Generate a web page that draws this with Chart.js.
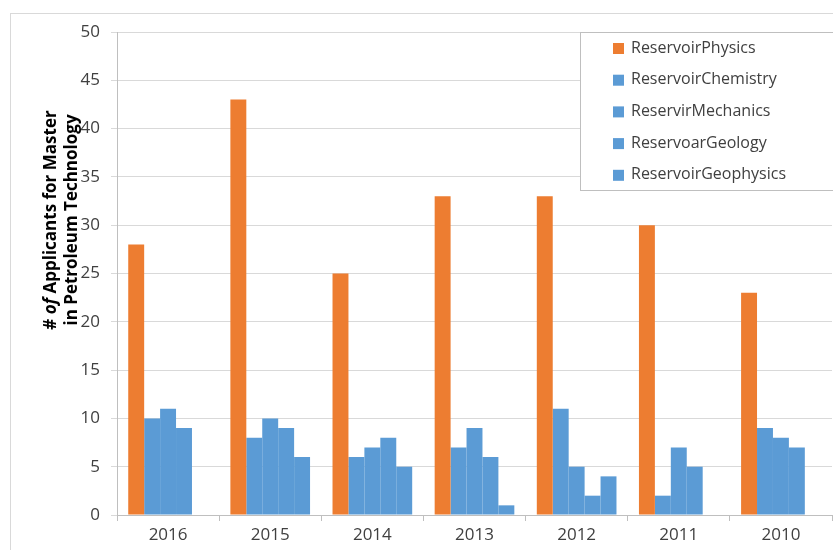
<!DOCTYPE html>
<html>
<head>
<meta charset="utf-8">
<script src="https://cdn.jsdelivr.net/npm/chart.js@4.4.1/dist/chart.umd.min.js"></script>
<style>
  html, body { margin: 0; padding: 0; background: #fff; }
  #wrap { width: 833px; height: 550px; }
</style>
</head>
<body>
<div id="wrap"><canvas id="myChart" width="833" height="550"></canvas></div>
<script>
// datos
const years = ['2016', '2015', '2014', '2013', '2012', '2011', '2010'];
const physics    = [28, 43, 25, 33, 33, 30, 23];
const chemistry  = [10, 8, 6, 7, 11, 2, 9];
const mechanics  = [11, 10, 7, 9, 5, 7, 8];
const geology    = [9, 9, 8, 6, 2, 5, 7];
const geophysics = [0, 6, 5, 1, 4, 0, 0];
const seriesNames = ['ReservoirPhysics', 'ReservoirChemistry', 'ReservirMechanics', 'ReservoarGeology', 'ReservoirGeophysics'];

const orange = '#ED7D31';
const blue = '#5B9BD5';
const font = "'Open Sans', 'Liberation Sans', sans-serif";

// marco exterior
const framePlugin = {
  id: 'frame',
  beforeDraw(chart) {
    const c = chart.ctx;
    c.save();
    c.strokeStyle = '#d9d9d9';
    c.lineWidth = 1;
    c.strokeRect(10.5, 13.5, 900, 700);
    c.restore();
  }
};

// titulo del eje y con "of" en cursiva
const titlePlugin = {
  id: 'ytitle',
  afterDraw(chart) {
    const c = chart.ctx;
    c.save();
    c.fillStyle = '#000';
    c.textBaseline = 'middle';
    c.translate(51, 220);
    c.rotate(-Math.PI / 2);
    const parts = [['# ', 'bold'], ['of', 'italic bold'], [' Applicants for Master', 'bold']];
    let total = 0;
    parts.forEach(p => { c.font = p[1] + ' 17px ' + font; total += c.measureText(p[0]).width; });
    let x = -total / 2;
    parts.forEach(p => {
      c.font = p[1] + ' 17px ' + font;
      c.textAlign = 'left';
      c.fillText(p[0], x, 0);
      x += c.measureText(p[0]).width;
    });
    c.font = 'bold 17px ' + font;
    c.textAlign = 'center';
    c.fillText('in Petroleum Technology', 0, 21);
    c.restore();
  }
};

// leyenda dentro del area del grafico
const legendPlugin = {
  id: 'boxLegend',
  afterDraw(chart) {
    const c = chart.ctx;
    c.save();
    c.fillStyle = '#fff';
    c.fillRect(580, 32, 260, 158);
    c.strokeStyle = '#bfbfbf';
    c.lineWidth = 1;
    c.strokeRect(580.5, 32.5, 260, 158);
    c.font = '16px ' + font;
    c.textBaseline = 'middle';
    c.textAlign = 'left';
    chart.data.datasets.forEach((ds, i) => {
      const y = 48 + i * 31.7;
      c.fillStyle = ds.backgroundColor;
      c.fillRect(613, y - 5, 11, 11);
      c.fillStyle = '#404040';
      c.fillText(ds.label, 631, y);
    });
    c.restore();
  }
};

const ctx = document.getElementById('myChart');
const lists = [physics, chemistry, mechanics, geology, geophysics];

new Chart(ctx, {
  type: 'bar',
  data: {
    labels: years,
    datasets: lists.map((vals, i) => ({
      label: seriesNames[i],
      data: vals,
      backgroundColor: i === 0 ? orange : blue,
      borderWidth: 0,
      categoryPercentage: 0.78,
      barPercentage: 1.0
    }))
  },
  options: {
    responsive: false,
    animation: false,
    layout: { padding: { top: 32, right: 1, left: 0, bottom: 0 } },
    plugins: {
      legend: { display: false },
      tooltip: { enabled: false }
    },
    scales: {
      x: {
        offset: true,
        grid: { display: true, drawOnChartArea: false, drawTicks: true, tickLength: 6, color: '#bfbfbf' },
        border: { color: '#bfbfbf' },
        ticks: { color: '#404040', font: { size: 17, family: font }, padding: 4 },
        afterFit(s) { s.height = 35; }
      },
      y: {
        min: 0,
        max: 50,
        ticks: { stepSize: 5, color: '#404040', font: { size: 17, family: font }, padding: 11 },
        grid: { color: '#d9d9d9', drawTicks: true, tickLength: 6 },
        border: { color: '#bfbfbf' },
        afterFit(s) { s.width = 117; }
      }
    }
  },
  plugins: [framePlugin, titlePlugin, legendPlugin]
});
</script>
</body>
</html>
